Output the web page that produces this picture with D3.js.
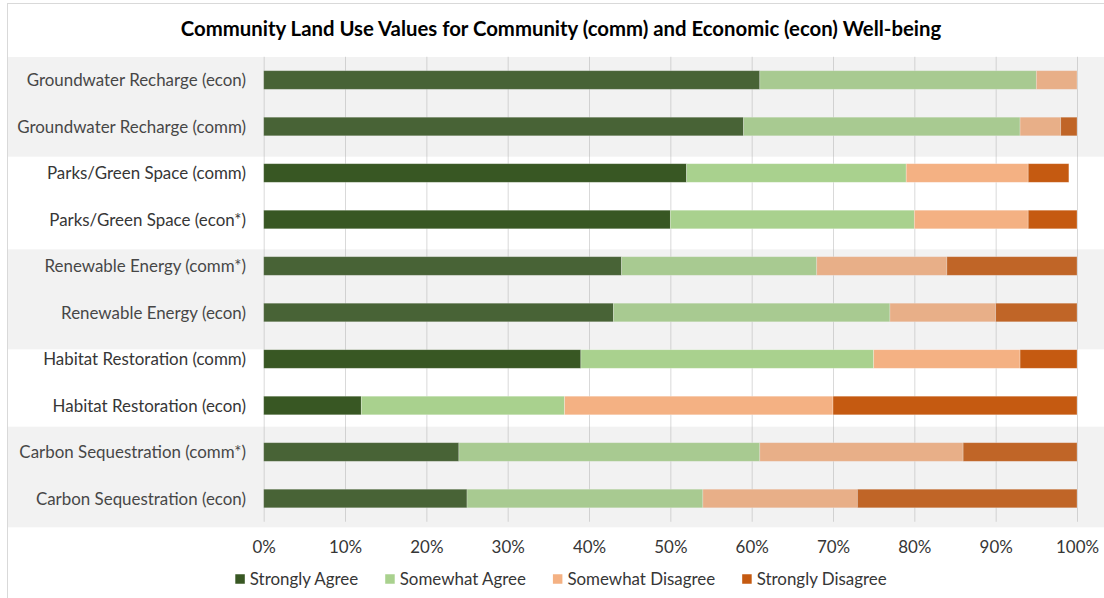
<!DOCTYPE html>
<html>
<head>
<meta charset="utf-8">
<script src="https://cdn.jsdelivr.net/npm/d3@7"></script>
<style>
  html, body { margin: 0; padding: 0; background: #fff; }
  svg { display: block; }
  text { font-family: Lato, "Open Sans", sans-serif; }
</style>
</head>
<body>
<svg id="chart" width="1104" height="598"></svg>
<script>
// ---- data ----
const categories = [
  "Groundwater Recharge (econ)",
  "Groundwater Recharge (comm)",
  "Parks/Green Space (comm)",
  "Parks/Green Space (econ*)",
  "Renewable Energy (comm*)",
  "Renewable Energy (econ)",
  "Habitat Restoration (comm)",
  "Habitat Restoration (econ)",
  "Carbon Sequestration (comm*)",
  "Carbon Sequestration (econ)"
];
const seriesNames = ["Strongly Agree", "Somewhat Agree", "Somewhat Disagree", "Strongly Disagree"];
const stronglyAgree     = [61, 59, 52, 50, 44, 43, 39, 12, 24, 25];
const somewhatAgree     = [34, 34, 27, 30, 24, 34, 36, 25, 37, 29];
const somewhatDisagree  = [ 5,  5, 15, 14, 16, 13, 18, 33, 25, 19];
const stronglyDisagree  = [ 0,  2,  5,  6, 16, 10,  7, 30, 14, 27];
const xTicks = [0, 10, 20, 30, 40, 50, 60, 70, 80, 90, 100];
const titleText = "Community Land Use Values for Community (comm) and Economic (econ) Well-being";

// ---- styles ----
const colors = ["#385723", "#A9D18E", "#F4B183", "#C55A11"];
const textColor = "#363636";

const rows = categories.map((c, i) => ({
  category: c,
  "Strongly Agree": stronglyAgree[i],
  "Somewhat Agree": somewhatAgree[i],
  "Somewhat Disagree": somewhatDisagree[i],
  "Strongly Disagree": stronglyDisagree[i]
}));

const svg = d3.select("#chart");
const W = 1104, H = 598;

const plot = { left: 263.7, right: 1077, top: 56.75, bottom: 521.75 };

const x = d3.scaleLinear().domain([0, 100]).range([plot.left, plot.right]);
const y = d3.scaleBand().domain(categories).range([plot.top, plot.bottom])
  .paddingInner(0.6).paddingOuter(0.3);
const color = d3.scaleOrdinal().domain(seriesNames).range(colors);

// chart border
svg.append("rect")
  .attr("x", 7.5).attr("y", 3.5).attr("width", 1300).attr("height", 800)
  .attr("fill", "#fff").attr("stroke", "#d9d9d9").attr("stroke-width", 1);

// gridlines
const grid = svg.append("g")
  .attr("transform", `translate(0,${plot.bottom})`)
  .call(d3.axisBottom(x).tickValues(xTicks).tickSize(-(plot.bottom - plot.top)).tickFormat(""));
grid.select(".domain").remove();
grid.selectAll("line").attr("stroke", "#d9d9d9").attr("stroke-width", 1);

// stacked bars
const stack = d3.stack().keys(seriesNames);
const stacked = stack(rows);

svg.append("g")
  .selectAll("g")
  .data(stacked)
  .join("g")
    .attr("fill", d => color(d.key))
  .selectAll("rect")
  .data(d => d.filter(s => s[1] - s[0] > 0))
  .join("rect")
    .attr("x", d => x(d[0]))
    .attr("y", d => y(d.data.category))
    .attr("width", d => x(d[1]) - x(d[0]))
    .attr("height", y.bandwidth())
    .attr("stroke", "#ffffff")
    .attr("stroke-opacity", 0.35)
    .attr("stroke-width", 0.75);

// category labels
const labels = svg.append("g")
  .selectAll("text")
  .data(categories)
  .join("text")
    .attr("x", 246)
    .attr("y", d => y(d) + y.bandwidth() / 2)
    .attr("dy", "0.36em")
    .attr("text-anchor", "end")
    .attr("fill", textColor)
    .attr("font-size", 16)
    .text(d => d);

// fit font size to reference width
let refNode = labels.filter(d => d === "Groundwater Recharge (comm)").node();
let k = 229 / refNode.getComputedTextLength();
const baseSize = 16 * k;
labels.attr("font-size", baseSize);

// x axis tick labels
const xAxis = svg.append("g")
  .attr("transform", `translate(0,${plot.bottom})`)
  .call(d3.axisBottom(x).tickValues(xTicks).tickSize(0).tickPadding(0).tickFormat(d => d + "%"));
xAxis.select(".domain").remove();
xAxis.selectAll("text")
  .attr("y", 25)
  .attr("dy", "0.36em")
  .attr("fill", textColor)
  .attr("font-size", baseSize)
  .style("font-family", "Lato, 'Open Sans', sans-serif");

// title
const title = svg.append("text")
  .attr("x", 561)
  .attr("y", 29)
  .attr("dy", "0.36em")
  .attr("text-anchor", "middle")
  .attr("font-weight", "bold")
  .attr("fill", "#000")
  .attr("font-size", 18.67)
  .text(titleText);
const kt = 760 / title.node().getComputedTextLength();
title.attr("font-size", 18.67 * kt);

// legend
const legend = svg.append("g");
const sq = 9.5, gapSq = 5, gapItem = 27, legendY = 579;
const items = legend.selectAll("g").data(seriesNames).join("g");
items.append("rect")
  .attr("width", sq).attr("height", sq)
  .attr("y", legendY - sq / 2)
  .attr("fill", d => color(d));
items.append("text")
  .attr("x", sq + gapSq)
  .attr("y", legendY)
  .attr("dy", "0.36em")
  .attr("fill", textColor)
  .attr("font-size", baseSize)
  .text(d => d);
const widths = [];
items.each(function() { widths.push(sq + gapSq + d3.select(this).select("text").node().getComputedTextLength()); });
const total = d3.sum(widths) + gapItem * (widths.length - 1);
let cx = 561 - total / 2;
items.attr("transform", (d, i) => {
  const t = `translate(${cx},0)`;
  cx += widths[i] + gapItem;
  return t;
});

// shaded row bands (overlay)
const shadeBands = [[57, 156.7], [249.3, 349.3], [426.7, 527.3]];
svg.append("g")
  .selectAll("rect")
  .data(shadeBands)
  .join("rect")
    .attr("x", 8)
    .attr("y", d => d[0])
    .attr("width", W - 8)
    .attr("height", d => d[1] - d[0])
    .attr("fill", "rgb(165,165,165)")
    .attr("fill-opacity", 0.15)
    .attr("pointer-events", "none");
</script>
</body>
</html>
